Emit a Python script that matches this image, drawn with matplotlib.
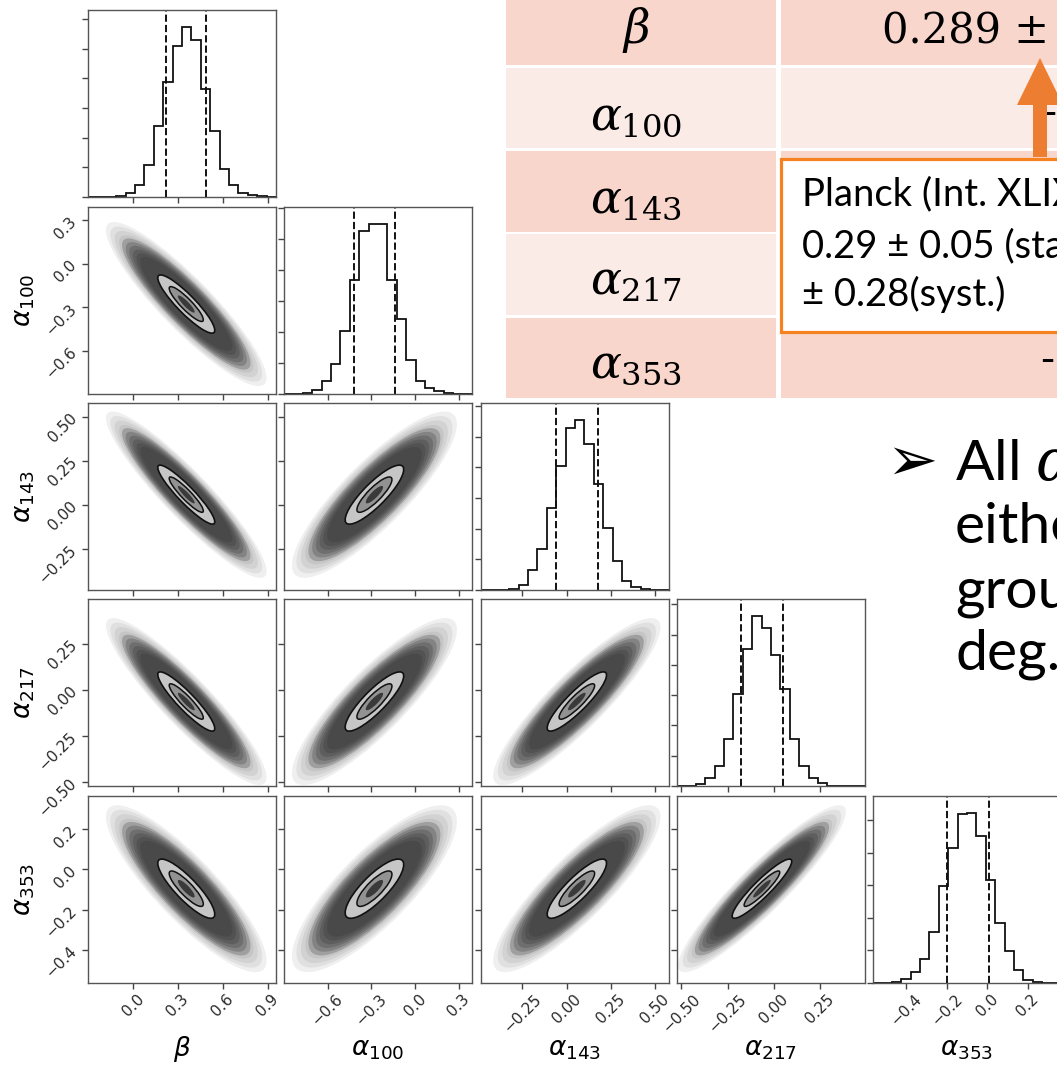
import numpy as np
import matplotlib.pyplot as plt
from matplotlib.patches import Ellipse, Rectangle, FancyArrow
from matplotlib.ticker import MultipleLocator

W, H = 1057, 1065

# ---- corner plot data ----
labels = [r"$\beta$", r"$\alpha_{100}$", r"$\alpha_{143}$", r"$\alpha_{217}$", r"$\alpha_{353}$"]
ranges = [(-0.30, 0.955), (-0.90, 0.39), (-0.483, 0.578), (-0.524, 0.493), (-0.566, 0.366)]
ticks = [[0.0, 0.3, 0.6, 0.9],
         [-0.6, -0.3, 0.0, 0.3],
         [-0.25, 0.0, 0.25, 0.5],
         [-0.5, -0.25, 0.0, 0.25],
         [-0.4, -0.2, 0.0, 0.2]]
tick_labels = [["0.0", "0.3", "0.6", "0.9"],
               ["\u22120.6", "\u22120.3", "0.0", "0.3"],
               ["\u22120.25", "0.00", "0.25", "0.50"],
               ["\u22120.50", "\u22120.25", "0.00", "0.25"],
               ["\u22120.4", "\u22120.2", "0.0", "0.2"]]

# 16% / 84% quantiles (dashed lines)
q16 = [0.222, -0.421, -0.060, -0.178, -0.200]
q84 = [0.490, -0.138, 0.176, 0.049, 0.008]

# 1D histograms, 20 bins each (relative heights)
hist_beta = [0, 0, 0, 4, 11, 36, 95, 212, 344, 452, 510, 472, 324, 199, 84, 36, 12, 5, 2, 1]
hist_a100 = [0, 1, 3, 13, 40, 91, 190, 341, 488, 510, 510, 343, 226, 103, 38, 18, 8, 3, 1, 0]
hist_a143 = [0, 0, 1, 4, 15, 58, 122, 243, 368, 480, 505, 433, 315, 185, 85, 27, 8, 2, 0, 0]
hist_a217 = [0, 1, 7, 25, 61, 141, 275, 408, 508, 473, 391, 290, 140, 61, 23, 8, 1, 0, 0, 0]
hist_a353 = [0, 0, 3, 11, 33, 71, 153, 293, 405, 508, 511, 443, 311, 180, 95, 40, 10, 3, 1, 0]
hists = [hist_beta, hist_a100, hist_a143, hist_a217, hist_a353]
hist_tick_step = [89, 93, 91, 90.5, 98]

# correlations, lower triangle (row = y parameter, col = x parameter)
rho = [[],
       [-0.90],
       [-0.92, 0.85],
       [-0.91, 0.86, 0.89],
       [-0.86, 0.81, 0.86, 0.92]]

# ---- table / slide text ----
table_rows = [r"$\beta$", r"$\alpha_{100}$", r"$\alpha_{143}$", r"$\alpha_{217}$", r"$\alpha_{353}$"]
table_vals = ["0.289 \u00b1", "-", "", "", "-"]
box_lines = ["Planck (Int. XLIX)", "0.29 \u00b1 0.05 (stat.)", "\u00b1 0.28(syst.)"]
bullet_lines = [r"All $\alpha$", "either", "ground", "deg."]

# ---- layout (pixels) ----
col_left = [88, 284, 481, 677, 873]
row_top = [10, 207, 403, 599, 796]
pw, ph = 188, 187

fig = plt.figure(figsize=(W / 100, H / 100), dpi=100)


def px_axes(left, top, w, h):
    return fig.add_axes([left / W, 1 - (top + h) / H, w / W, h / H])


def cloud(ax, mx, my, sx, sy, r):
    cov = np.array([[sx * sx, r * sx * sy], [r * sx * sy, sy * sy]])
    vals, vecs = np.linalg.eigh(cov)
    ang = np.degrees(np.arctan2(vecs[1, 1], vecs[0, 1]))
    a, b = np.sqrt(vals[1]), np.sqrt(vals[0])

    def ell(k, **kw):
        ax.add_patch(Ellipse((mx, my), 2 * k * a, 2 * k * b, angle=ang, **kw))

    # sparse tails, then the dense grey cloud
    for k in np.linspace(4.0, 3.35, 4):
        ell(k, facecolor="#333333", edgecolor="none", alpha=0.08)
    for k in np.linspace(3.2, 2.3, 6):
        ell(k, facecolor="#333333", edgecolor="none", alpha=0.26)
    # density contours
    ell(1.42, facecolor="#c6c6c6", edgecolor="#111111", lw=1.2)
    ell(0.85, facecolor="#929292", edgecolor="#111111", lw=1.1)
    ell(0.42, facecolor="#3a3a3a", edgecolor="none")


n = len(labels)
for i in range(n):
    for j in range(i + 1):
        ax = px_axes(col_left[j], row_top[i], pw, ph)
        ax.set_xlim(ranges[j])
        if i == j:
            h = np.array(hists[i], dtype=float)
            edges = np.linspace(ranges[i][0], ranges[i][1], len(h) + 1)
            ax.stairs(h, edges, color="#111111", lw=1.3)
            ax.set_ylim(0, 1.1 * h.max())
            for q in (q16[i], q84[i]):
                ax.axvline(q, color="#111111", ls="--", lw=1.4)
            ax.yaxis.set_major_locator(MultipleLocator(hist_tick_step[i]))
            ax.set_yticklabels([])
        else:
            ax.set_ylim(ranges[i])
            mx = (q16[j] + q84[j]) / 2
            my = (q16[i] + q84[i]) / 2
            sx = (q84[j] - q16[j]) / 2
            sy = (q84[i] - q16[i]) / 2
            cloud(ax, mx, my, sx, sy, rho[i][j])
            ax.set_yticks(ticks[i])
            if j == 0:
                ax.set_yticklabels(tick_labels[i], rotation=45)
                ax.text(-0.34, 0.5, labels[i], transform=ax.transAxes, rotation=90,
                        ha="center", va="center", fontsize=19)
            else:
                ax.set_yticklabels([])
        ax.set_xticks(ticks[j])
        if i == n - 1:
            ax.set_xticklabels(tick_labels[j], rotation=45)
            ax.text(0.5, -0.355, labels[j], transform=ax.transAxes,
                    ha="center", va="center", fontsize=19)
        else:
            ax.set_xticklabels([])
        for s in ax.spines.values():
            s.set_color("#555555")
            s.set_linewidth(1.0)
        ax.tick_params(direction="out", length=4, width=1, color="#444444",
                       labelsize=11, labelcolor="#2a2a2a", pad=2)

# ---- overlay in pixel coordinates ----
ov = fig.add_axes([0, 0, 1, 1])
ov.set_xlim(0, W)
ov.set_ylim(H, 0)
ov.axis("off")

row_bounds = [(0, 65), (68, 148), (151, 232), (234, 315), (318, 398)]
col_bounds = [(506, 776), (781, 1060)]
row_colors = ["#F8D6CC", "#FBEBE6", "#F8D6CC", "#FBEBE6", "#F8D6CC"]
baselines = [43, 130, 213, 295, 378]

for r, (y0, y1) in enumerate(row_bounds):
    for (x0, x1) in col_bounds:
        ov.add_patch(Rectangle((x0, y0), x1 - x0, y1 - y0, facecolor=row_colors[r],
                               edgecolor="none", zorder=1))
    ov.text(636, baselines[r], table_rows[r], ha="center", va="baseline",
            fontsize=33, math_fontfamily="dejavuserif", zorder=3)

ov.text(882, 43, table_vals[0], ha="left", va="baseline", fontsize=30,
        family="DejaVu Serif", zorder=3)
ov.text(1042, 125, table_vals[1], ha="left", va="baseline", fontsize=30,
        family="DejaVu Serif", zorder=3)
ov.text(1040, 372, table_vals[4], ha="left", va="baseline", fontsize=30,
        family="DejaVu Serif", zorder=3)

# orange note box and arrow
ov.add_patch(Rectangle((781, 159), 300, 173, facecolor="white", edgecolor="#F5821F",
                       lw=2.3, zorder=4))
for line, yb in zip(box_lines, [205, 257, 306]):
    ov.text(802, yb, line, ha="left", va="baseline", fontsize=27.5,
            family=["Lato", "DejaVu Sans"], zorder=5)
ov.add_patch(FancyArrow(1040, 157, 0, -99, width=14, head_width=46, head_length=47,
                        length_includes_head=True, color="#ED7D31", lw=0, zorder=6))

# bullet text
ov.text(886, 480, "\u27a2", ha="left", va="baseline", fontsize=44,
        family="DejaVu Sans", zorder=5)
for line, yb in zip(bullet_lines, [480, 543, 607, 670]):
    ov.text(955, yb, line, ha="left", va="baseline", fontsize=41,
            family=["Lato", "DejaVu Sans"], math_fontfamily="dejavuserif", zorder=5)

fig.savefig("out.png", dpi=100)
